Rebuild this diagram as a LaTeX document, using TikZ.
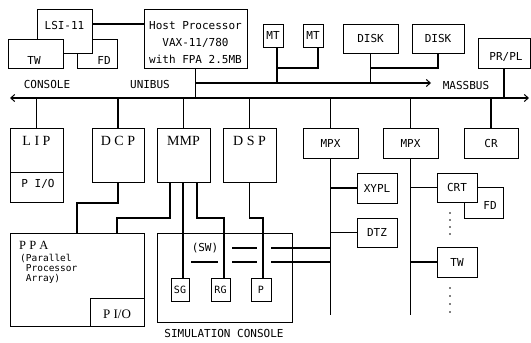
\documentclass[tikz,border=0pt]{standalone}
\usepackage{fontspec}
\setmainfont{Liberation Serif}
\newfontfamily\monof{DejaVu Sans Mono}
\usetikzlibrary{arrows.meta,calc}
\newcommand\bx[7][]{\node[box,minimum width={(#5-#3)*1pt},minimum height={(#6-#4)*1pt},#1] (#2) at ({(#3+#5)/2},{(#4+#6)/2}) {#7};}
\begin{document}
\begin{tikzpicture}[x=1pt,y=-1pt,
  box/.style={draw,line width=0.8pt,fill=white,inner sep=0pt},
  conn/.style={line width=1.4pt},
  bus/.style={line width=1.6pt},
  mono/.style={font=\monof\fontsize{11}{12}\selectfont},
  sm/.style={font=\monof\fontsize{10}{10}\selectfont},
  tiny/.style={font=\monof\fontsize{9.5}{10}\selectfont},
  ser/.style={font=\fontsize{14}{16}\selectfont},
  txt/.style={inner sep=0pt},
  tip/.tip={Straight Barb[length=4pt,width=7pt,line width=1pt]}]
\useasboundingbox (0,0) rectangle (531,343);
% ---- top left console group
\bx{fd1}{77}{39}{117}{68}{}
\bx{lsi}{37}{9}{92}{53}{}
\bx{tw1}{8}{39}{63}{68}{}
\node[mono,txt] (tlsi) at (64.5,25) {LSI-11};
\node[mono,txt] (tfd1) at (104,60) {FD};
\node[mono,txt] (ttw1) at (34,60) {TW};
% ---- host
\bx{host}{144}{9}{247}{68}{}
\node[txt,align=center,font=\monof\fontsize{11}{17}\selectfont] (thost) at (195.5,42.5) {Host Processor\\VAX-11/780\\with FPA 2.5MB};
\draw[conn] (lsi.east |- 0,24) -- (host.west |- 0,24);
% ---- massbus devices
\bx[mono]{mt1}{263}{24}{283}{47}{MT}
\bx[mono]{mt2}{303}{24}{323}{47}{MT}
\bx[mono]{disk1}{343}{24}{398}{53}{DISK}
\bx[mono]{disk2}{412}{24}{464}{53}{DISK}
\bx{prpl}{478}{38}{530}{68}{}
\node[mono,txt] (tprpl) at (506,57) {PR/PL};
% ---- bus labels
\node[mono,txt] (lcons) at (47,84) {CONSOLE};
\node[mono,txt] (luni) at (150,84) {UNIBUS};
\node[mono,txt] (lmass) at (466,85) {MASSBUS};
% ---- buses
\coordinate (ubl) at (10,98);
\coordinate (ubr) at (529,98);
\draw[bus,tip-tip] (ubl) -- (ubr);
\draw[conn] (host.south) -- (host.south |- ubl);
\coordinate (mbe) at (431,83);
\draw[conn,-tip] (host.south |- mbe) -- (mbe);
\coordinate (mtA) at (277,68);
\coordinate (mtB) at (318,68);
\draw[conn] (mtA |- mt1.south) -- (mtA |- mbe);
\draw[conn] (mtB |- mt2.south) -- (mtB) -- (mtA);
\coordinate (dkA) at (370.5,68);
\draw[conn] (disk1.south) -- (disk1.south |- mbe);
\draw[conn] (disk2.south) -- (disk2.south |- dkA) -- (dkA);
\draw[conn] (prpl.south) -- (prpl.south |- ubl);
% ---- unibus devices
\bx{lip}{10}{128}{63}{202}{}
\bx{lipio}{10}{172}{63}{202}{}
\node[mono,txt] (tlipio) at (38,184) {P I/O};
\node[ser,txt] (tlip) at (36.5,141) {L I P};
\bx[ser]{dcp}{92}{128}{144}{182}{}
\node[ser,txt] (tdcp) at (118,141) {D C P};
\bx{mmp}{157}{128}{210}{182}{}
\node[ser,txt] (tmmp) at (183.5,141) {MMP};
\bx{dsp}{223}{128}{276}{182}{}
\node[ser,txt] (tdsp) at (249.5,141) {D S P};
\bx[mono]{mpx1}{303}{128}{358}{158}{MPX}
\bx[mono]{mpx2}{383}{128}{438}{158}{MPX}
\bx[mono]{cr}{464}{128}{518}{158}{CR}
\foreach \n in {lip,dcp,mmp,dsp,mpx1,mpx2,cr}
  \draw[conn] (\n.north |- ubl) -- (\n.north);
% ---- PPA
\bx{ppa}{10}{233}{144}{326}{}
\bx{ppaio}{90}{298}{144}{326}{}
\node[txt,font=\fontsize{13}{14}\selectfont] (tppaio) at (117,314) {P I/O};
\node[txt,anchor=base west,font=\fontsize{12.5}{14}\selectfont] (tppa) at (19,249) {P P A};
\node[tiny,txt,anchor=base west] (tppa1) at (20,261) {(Parallel};
\node[tiny,txt,anchor=base west] (tppa2) at (25.7,271) {Processor};
\node[tiny,txt,anchor=base west] (tppa3) at (25.7,281) {Array)};
\coordinate (dk) at (77,203);
\draw[conn] (dcp.south) |- (dk) -- (dk |- ppa.north);
\coordinate (ma) at (170,218);
\coordinate (mb) at (117,218);
\draw[conn] (ma |- mmp.south) -- (ma) -- (mb) -- (mb |- ppa.north);
% ---- simulation console
\bx[fill=none]{simc}{157}{233}{292}{322}{}
\node[mono,txt] (tsim) at (224,333) {SIMULATION CONSOLE};
\bx[sm]{sg}{171}{278}{189}{301}{SG}
\bx[sm]{rg}{211}{278}{230}{301}{RG}
\bx[sm]{pp}{251}{278}{271}{301}{P}
\coordinate (mc) at (183,0);
\draw[conn] (mc |- mmp.south) -- (mc |- sg.north);
\coordinate (md) at (197,218);
\coordinate (me) at (224,218);
\draw[conn] (md |- mmp.south) -- (md) -- (me) -- (me |- rg.north);
\coordinate (da) at (263,218);
\draw[conn] (dsp.south) -- (dsp.south |- da) -- (da) -- (da |- pp.north);
\node[mono,txt] (tsw) at (205,248) {(SW)};
\draw[conn] (232,248) -- (257,248);
\draw[conn] (271,248) -- (mpx1.south |- 0,248);
\draw[conn] (191,262) -- (218,262);
\draw[conn] (232,262) -- (257,262);
\draw[conn] (271,262) -- (mpx1.south |- 0,262);
% ---- MPX branches
\coordinate (mend) at (0,315);
\draw[conn] (mpx1.south) -- (mpx1.south |- mend);
\bx[mono]{xypl}{357}{173}{397}{203}{XYPL}
\bx[mono]{dtz}{357}{218}{397}{247}{DTZ}
\draw[conn] (mpx1.south |- xypl.west) -- (xypl.west);
\draw[conn] (mpx1.south |- dtz.west) -- (dtz.west);
\draw[conn] (mpx2.south) -- (mpx2.south |- mend);
\bx{fd2}{464}{187}{503}{218}{}
\node[mono,txt] (tfd2) at (490,205) {FD};
\bx[mono]{crt}{437}{173}{477}{202}{CRT}
\bx[mono]{tw2}{437}{247}{477}{277}{TW}
\draw[conn] (mpx2.south |- crt.west) -- (crt.west);
\draw[conn] (mpx2.south |- tw2.west) -- (tw2.west);
\foreach \yy in {213,220,227,234,288,296,304,312}
  \fill (450,\yy) circle (0.9pt);
\end{tikzpicture}
\end{document}
